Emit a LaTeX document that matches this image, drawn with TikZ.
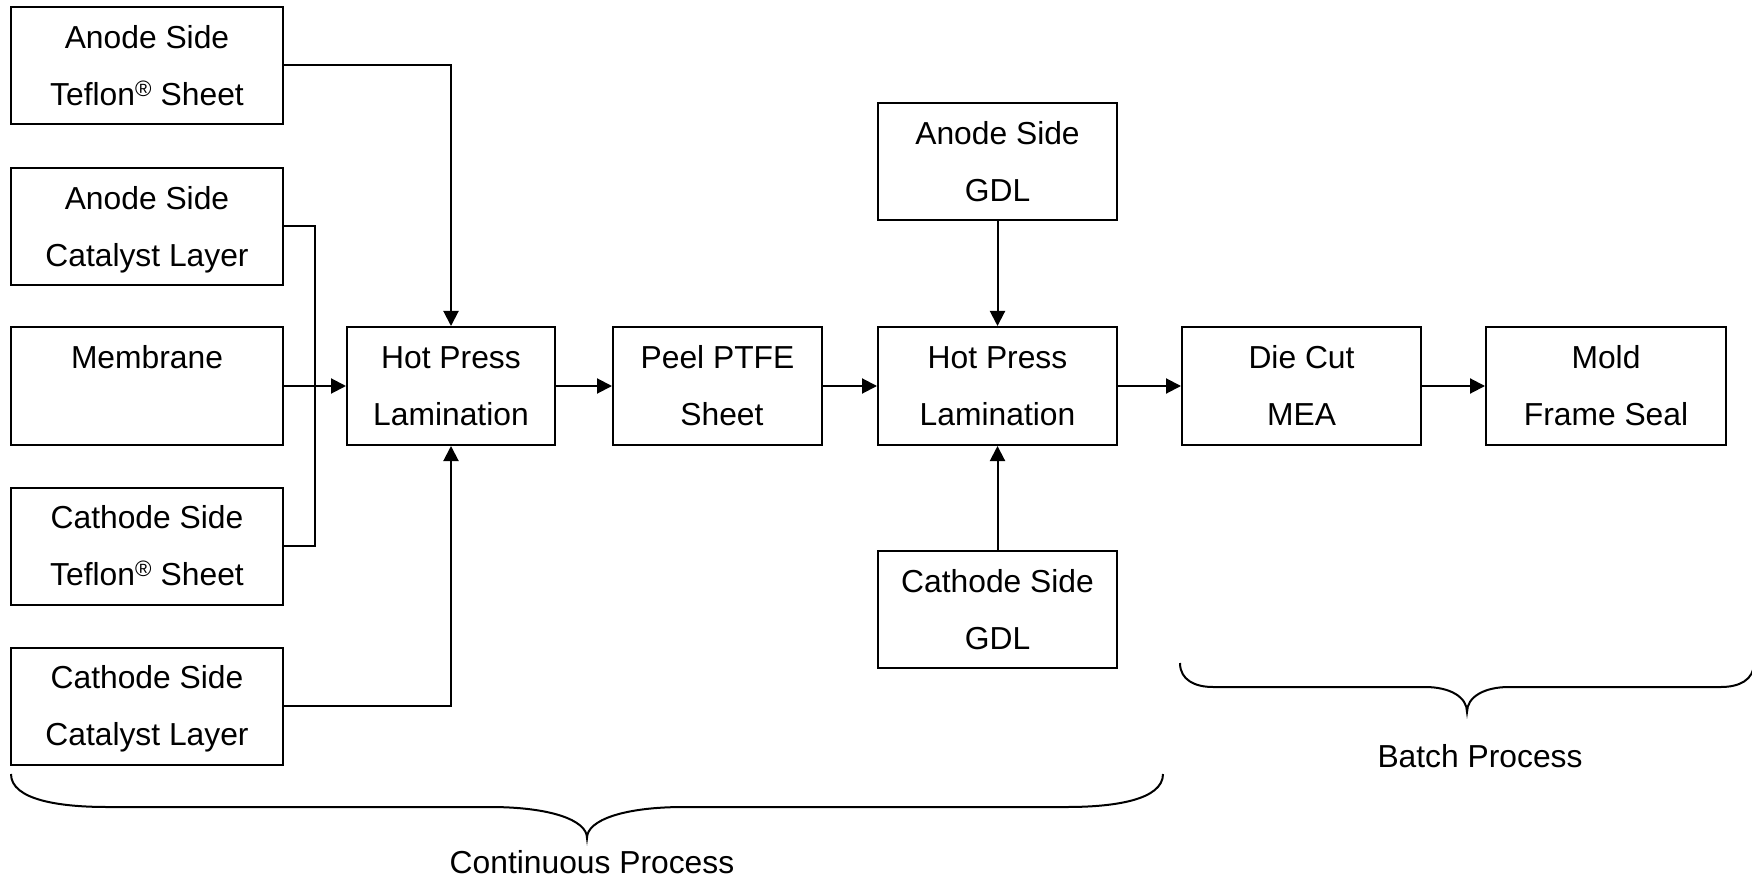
\documentclass[tikz,border=0pt]{standalone}
\usepackage{fontspec}
\setmainfont{Liberation Sans}
\usetikzlibrary{arrows.meta}
\begin{document}
\begin{tikzpicture}[x=1pt,y=-1pt,
  txt/.style={font=\fontsize{31.8}{57}\selectfont},
  box/.style={draw, line width=2pt, inner sep=0pt, align=center, minimum height=117pt, txt},
  arr/.style={-{Triangle[length=15pt,width=15pt]}, line width=2pt},
  con/.style={line width=2pt},
  brace/.style={line width=2pt}]
\useasboundingbox (0,0) rectangle (1752,882);
\newcommand{\two}[2]{\strut #1\\\strut #2}
\newcommand{\reg}{\textsuperscript{\textregistered}}
% left column
\node[box, minimum width=272pt] (a1) at (147,65.5) {\two{Anode Side}{Teflon\reg{} Sheet}};
\node[box, minimum width=272pt] (a2) at (147,226.5) {\two{Anode Side}{Catalyst Layer}};
\node[box, minimum width=272pt, minimum height=118pt] (mem) at (147,386) {\two{Membrane}{}};
\node[box, minimum width=272pt] (ct) at (147,546) {\two{Cathode Side}{Teflon\reg{} Sheet}};
\node[box, minimum width=272pt] (cc) at (147,706) {\two{Cathode Side}{Catalyst Layer}};
% main row
\node[box, minimum width=208pt, minimum height=118pt] (hp1) at (451,386) {\two{Hot Press}{Lamination}};
\node[box, minimum width=209pt, minimum height=118pt] (peel) at (717.5,386) {\two{Peel PTFE}{\ Sheet}};
\node[box, minimum width=239pt, minimum height=118pt] (hp2) at (997.5,386) {\two{Hot Press}{Lamination}};
\node[box, minimum width=239pt] (agdl) at (997.5,161.5) {\two{Anode Side}{GDL}};
\node[box, minimum width=239pt] (cgdl) at (997.5,609.5) {\two{Cathode Side}{GDL}};
\node[box, minimum width=239pt, minimum height=118pt] (die) at (1301.5,386) {\two{Die Cut}{MEA}};
\node[box, minimum width=240pt, minimum height=118pt] (mold) at (1606,386) {\two{Mold}{Frame Seal}};
% labels
\node[txt, anchor=base, inner sep=0pt] (cont) at (592,873) {Continuous Process};
\node[txt, anchor=base, inner sep=0pt] (batch) at (1480,767) {Batch Process};
% connectors
\coordinate (j) at (315,386);
\draw[con] (a2.east) -| (j) |- (ct.east);
\draw[arr] (mem.east) -- (hp1.west);
\draw[arr] (a1.east) -| (hp1.north);
\draw[arr] (cc.east) -| (hp1.south);
\draw[arr] (hp1.east) -- (peel.west);
\draw[arr] (peel.east) -- (hp2.west);
\draw[arr] (agdl.south) -- (hp2.north);
\draw[arr] (cgdl.north) -- (hp2.south);
\draw[arr] (hp2.east) -- (die.west);
\draw[arr] (die.east) -- (mold.west);
% braces
\draw[brace] (11,774) .. controls (11,800) and (60,807) .. (107,807) -- (490,807)
  .. controls (550,807) and (587,820) .. (587,838)
  .. controls (587,820) and (624,807) .. (684,807) -- (1067,807)
  .. controls (1114,807) and (1163,800) .. (1163,774);
\draw[brace] (1180,663) .. controls (1180,680) and (1195,687) .. (1213,687) -- (1425,687)
  .. controls (1450,687) and (1467,697) .. (1467,712)
  .. controls (1467,697) and (1484,687) .. (1509,687) -- (1721,687)
  .. controls (1739,687) and (1754,680) .. (1754,663);
\end{tikzpicture}
\end{document}
